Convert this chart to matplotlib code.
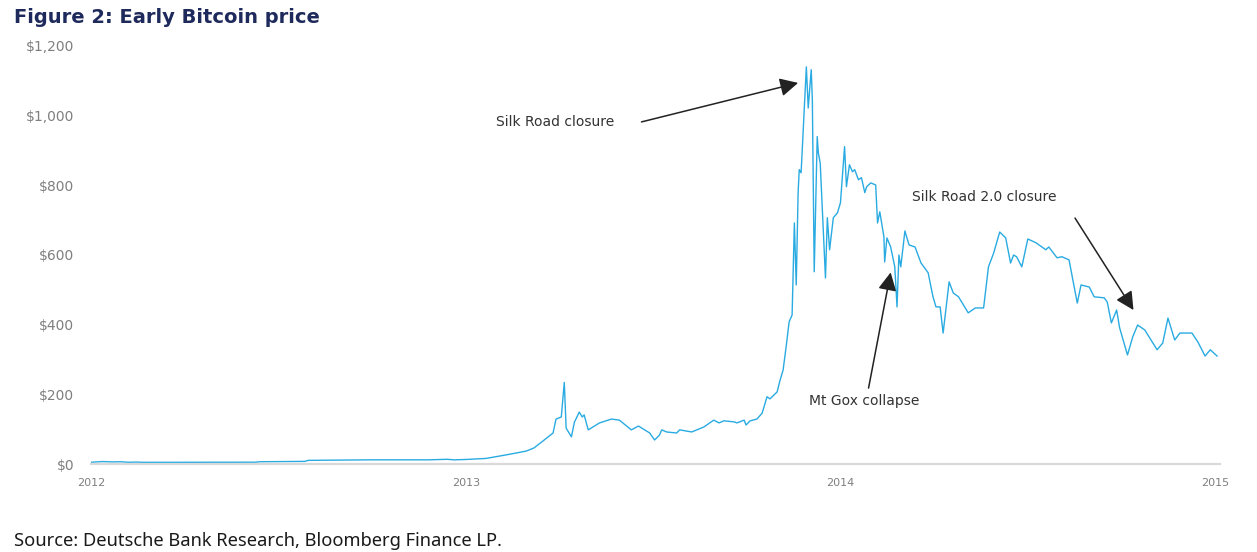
import matplotlib
matplotlib.use('Agg')
import matplotlib.pyplot as plt

# decimal years and price (USD)
years_2012 = [2012.00, 2012.03, 2012.06, 2012.08, 2012.10, 2012.12, 2012.14, 2012.30,
              2012.44, 2012.45, 2012.57, 2012.58, 2012.65, 2012.75, 2012.90, 2012.95,
              2012.97]
price_2012 = [5, 7, 6, 6.5, 5, 5.5, 4.8, 5,
              5.2, 6.5, 7.5, 10.5, 11, 12, 12, 13.5,
              12]

years_2013 = [2013.000, 2013.054, 2013.107, 2013.161, 2013.182, 2013.206, 2013.233, 2013.241,
              2013.255, 2013.263, 2013.268, 2013.282, 2013.290, 2013.303, 2013.311, 2013.316,
              2013.327, 2013.357, 2013.389, 2013.410, 2013.442, 2013.461, 2013.491, 2013.504,
              2013.517, 2013.523, 2013.536, 2013.563, 2013.571, 2013.603, 2013.635, 2013.662,
              2013.676, 2013.689, 2013.716, 2013.724, 2013.743, 2013.748, 2013.759, 2013.777,
              2013.791, 2013.804, 2013.812, 2013.831, 2013.839, 2013.847, 2013.855, 2013.863,
              2013.871, 2013.877, 2013.882, 2013.887, 2013.890, 2013.895, 2013.909, 2013.914,
              2013.922, 2013.925, 2013.930, 2013.938, 2013.941, 2013.946, 2013.960, 2013.965,
              2013.971, 2013.981, 2013.992]
price_2013 = [13, 16, 26, 37, 46, 66, 89, 129,
              135, 234, 103, 78, 120, 149, 135, 141,
              98, 118, 129, 126, 98, 109, 89, 69,
              83, 98, 92, 89, 98, 92, 106, 126,
              118, 124, 121, 118, 126, 112, 124, 129,
              146, 193, 187, 207, 241, 270, 336, 408,
              428, 692, 514, 779, 845, 836, 1140, 1022,
              1132, 1045, 552, 940, 893, 864, 534, 707,
              615, 707, 721]

years_2014 = [2014.000, 2014.011, 2014.016, 2014.024, 2014.032, 2014.038, 2014.048, 2014.056,
              2014.065, 2014.070, 2014.081, 2014.094, 2014.099, 2014.105, 2014.116, 2014.118,
              2014.124, 2014.134, 2014.145, 2014.151, 2014.156, 2014.161, 2014.172, 2014.183,
              2014.199, 2014.215, 2014.234, 2014.247, 2014.255, 2014.266, 2014.274, 2014.290,
              2014.301, 2014.315, 2014.341, 2014.360, 2014.382, 2014.395, 2014.409, 2014.425,
              2014.441, 2014.454, 2014.462, 2014.470, 2014.484, 2014.500, 2014.522, 2014.548,
              2014.556, 2014.578, 2014.591, 2014.610, 2014.632, 2014.642, 2014.664, 2014.677,
              2014.704, 2014.712, 2014.723, 2014.737, 2014.745, 2014.766, 2014.780, 2014.793,
              2014.812, 2014.845, 2014.860, 2014.874, 2014.892, 2014.906, 2014.938, 2014.954,
              2014.973, 2014.987, 2015.005]
price_2014 = [750, 911, 796, 859, 839, 845, 816, 822,
              779, 796, 807, 801, 692, 724, 652, 580,
              649, 623, 566, 451, 600, 566, 669, 629,
              623, 577, 549, 480, 451, 451, 376, 523,
              491, 480, 434, 448, 448, 566, 606, 666,
              649, 577, 600, 595, 566, 646, 635, 615,
              623, 592, 595, 586, 462, 514, 508, 480,
              477, 465, 405, 442, 391, 313, 365, 399,
              385, 328, 347, 419, 356, 376, 376, 350,
              310, 328, 310]

years = years_2012 + years_2013 + years_2014
price = price_2012 + price_2013 + price_2014

year_ticks = [2012, 2013, 2014, 2015]
price_ticks = [0, 200, 400, 600, 800, 1000, 1200]

fig = plt.figure(figsize=(12.57, 5.52), dpi=100)
ax = fig.add_axes([0.0724, 0.1594, 0.8982, 0.7573])

ax.plot(years, price, color='#29abe2', lw=1.0)

ax.set_xlim(2012, 2015.013)
ax.set_ylim(0, 1200)
ax.set_xticks(year_ticks)
ax.set_xticklabels([str(y) for y in year_ticks])
ax.set_yticks(price_ticks)
ax.set_yticklabels(['${:,}'.format(p) for p in price_ticks])
ax.tick_params(axis='both', length=0, colors='#7f7f7f')
ax.tick_params(axis='y', labelsize=10, pad=12)
ax.tick_params(axis='x', labelsize=8, pad=10)
for s in ['top', 'right', 'left']:
    ax.spines[s].set_visible(False)
ax.spines['bottom'].set_color('#d9d9d9')
ax.spines['bottom'].set_linewidth(1.6)

arrow = dict(arrowstyle='-|>,head_length=0.55,head_width=0.28', mutation_scale=20,
             color='#222222', lw=1.1, shrinkA=0, shrinkB=0)
ax.annotate('', xy=(2013.887, 1094), xytext=(2013.469, 982), arrowprops=arrow)
ax.text(2013.080, 982, 'Silk Road closure', fontsize=10, color='#333333', va='center')
ax.annotate('', xy=(2014.134, 550), xytext=(2014.075, 218), arrowprops=arrow)
ax.text(2013.917, 181, 'Mt Gox collapse', fontsize=10, color='#333333', va='center')
ax.annotate('', xy=(2014.782, 442), xytext=(2014.626, 706), arrowprops=arrow)
ax.text(2014.190, 767, 'Silk Road 2.0 closure', fontsize=10, color='#333333', va='center')

fig.text(0.011, 0.969, 'Figure 2: Early Bitcoin price', fontsize=14, fontweight='bold',
         family='DejaVu Sans', color='#1f2a5c', va='center')
fig.text(0.011, 0.020, 'Source: Deutsche Bank Research, Bloomberg Finance LP.', fontsize=13.2,
         family='Noto Sans', color='#1a1a1a', va='center')

fig.savefig('out.png', dpi=100)
